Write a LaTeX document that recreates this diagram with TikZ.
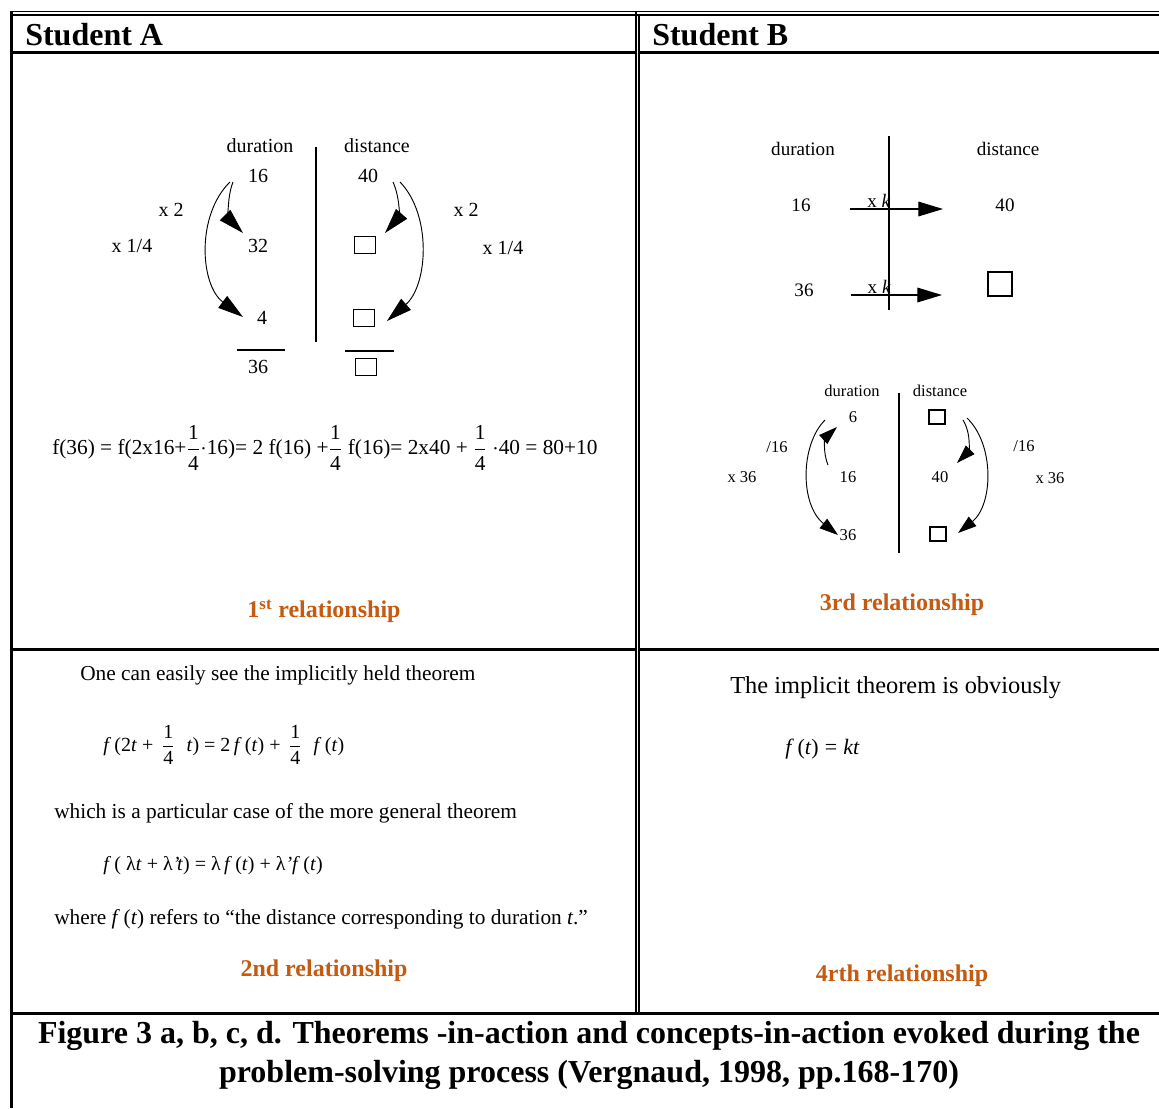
\documentclass[tikz,border=0pt]{standalone}
\usepackage{fontspec}
\setmainfont{Liberation Serif}
\usepackage{amsmath}
\usetikzlibrary{arrows.meta}
\definecolor{relc}{HTML}{C55A11}
\newcommand{\bfr}[2]{$\genfrac{}{}{1pt}{0}{\text{#1}}{\text{#2}}$}
\newcommand{\sfr}[2]{$\genfrac{}{}{0.5pt}{0}{\text{#1}}{\text{#2}}$}
\begin{document}
\begin{tikzpicture}[x=0.75pt,y=-0.75pt,
  hdr/.style={font=\fontsize{24}{28}\selectfont\bfseries, anchor=base west, inner sep=0pt},
  rel/.style={font=\fontsize{18}{21}\selectfont\bfseries, text=relc, inner sep=0pt},
  dgA/.style={font=\fontsize{15}{18}\selectfont, inner sep=1pt},
  dgB/.style={font=\fontsize{14.3}{17}\selectfont, inner sep=1pt},
  dgC/.style={font=\fontsize{12.4}{15}\selectfont, inner sep=1pt},
  bt/.style={font=\fontsize{16}{19}\selectfont, anchor=west, inner sep=0pt},
  eq/.style={font=\fontsize{15}{18}\selectfont, anchor=west, inner sep=0pt},
  boxA/.style={draw, line width=0.9pt, minimum width=15.75pt, minimum height=12.75pt, inner sep=0pt},
  boxB/.style={draw, line width=0.9pt, minimum width=18pt, minimum height=18pt, inner sep=0pt},
  boxC/.style={draw, line width=0.8pt, minimum width=12pt, minimum height=10.5pt, inner sep=0pt},
  arrA/.style={-{Triangle[length=19pt,width=11pt]}, line width=0.7pt},
  arrB/.style={-{Triangle[length=18.5pt,width=11pt]}, line width=0.9pt},
  arrC/.style={-{Triangle[length=14pt,width=9pt]}, line width=0.7pt},
  rule/.style={line width=0.9pt}
]
\useasboundingbox (0,0) rectangle (1159,1108);
\fill[white] (0,0) rectangle (1159,1108);

% ---------- table lines ----------
\draw[line width=1.4pt] (10,11.5) -- (1159,11.5);
\draw[line width=0.9pt] (10,15) -- (1159,15);
\draw[line width=2.25pt] (10,52.5) -- (635,52.5);
\draw[line width=2.25pt] (639.5,52.5) -- (1159,52.5);
\draw[line width=2.25pt] (11.5,10.5) -- (11.5,1108);
\draw[line width=1.3pt] (635.8,11) -- (635.8,1014.5);
\draw[line width=1.3pt] (638.8,15) -- (638.8,1014.5);
\draw[line width=2pt] (11,649.7) -- (635,649.7);
\draw[line width=2pt] (639.5,649.7) -- (1159,649.7);
\draw[line width=2.25pt] (11,1013.3) -- (1159,1013.3);

% ---------- headers ----------
\node[hdr] (hA) at (25,45) {Student A};
\node[hdr] (hB) at (652,45) {Student B};

% ---------- top-left diagram ----------
\node[dgA] (durA) at (260,146) {duration};
\node[dgA] (disA) at (377,146) {distance};
\draw[rule] (316,147) -- (316,342);
\node[dgA] (a16) at (258,176) {16};
\node[dgA] (a40) at (368,176) {40};
\node[dgA] (ax2L) at (171,210) {x 2};
\node[dgA] (ax4L) at (132,246) {x 1/4};
\node[dgA] (ax2R) at (466,210) {x 2};
\node[dgA] (ax4R) at (503,248) {x 1/4};
\node[dgA] (a32) at (258,246) {32};
\node[boxA] (abx1) at (365,245) {};
\node[dgA] (a4) at (262,318) {4};
\node[boxA] (abx2) at (364,318) {};
\draw[rule] (237,350) -- (285,350);
\draw[rule] (345,351) -- (394,351);
\node[dgA] (a36) at (258,367) {36};
\node[boxA] (abx3) at (366,367) {};
\draw[arrA] ([shift={(-25,6)}]a16.center) .. controls +(-7,18) and +(-13,-13) .. ([shift={(-15,-13)}]a32.center);
\draw[arrA] ([shift={(-28,6)}]a16.center) .. controls +(-34,33) and +(-43,-32) .. ([shift={(-19,-1)}]a4.center);
\draw[arrA] ([shift={(25,6)}]a40.center) .. controls +(8,18) and +(13,-15) .. ([shift={(20,-12)}]abx1.center);
\draw[arrA] ([shift={(32,6)}]a40.center) .. controls +(32,33) and +(41,-36) .. ([shift={(23,3)}]abx2.center);

\node[eq, font=\fontsize{16}{19}\selectfont] (eqA) at (52,448) {f(36) = f(2x16+\bfr{1}{4}$\cdot$16)= 2 f(16) +\bfr{1}{4} f(16)= 2x40 + \bfr{1}{4} $\cdot$40 = 80+10};

\node[rel] (r1) at (324,611) {1\textsuperscript{st} relationship};

% ---------- top-right diagram 1 ----------
\node[dgB] (durB) at (803,149) {duration};
\node[dgB] (disB) at (1008,149) {distance};
\draw[rule] (889,136) -- (889,310);
\node[dgB] (b16) at (801,205) {16};
\node[dgB] (b40) at (1005,205) {40};
\node[dgB] (b36) at (804,290) {36};
\node[boxB] (bbx) at (1000,284) {};
\draw[arrB] ([shift={(49,4)}]b16.center) -- node[pos=0.31, above, inner sep=0.3pt, dgB] {x \textit{k}} ([shift={(-62,4)}]b40.center);
\draw[arrB] ([shift={(47,5)}]b36.center) -- node[pos=0.31, above, inner sep=0.3pt, dgB] {x \textit{k}} ([shift={(-58,11)}]bbx.center);

% ---------- top-right diagram 2 ----------
\node[dgC] (durC) at (852,391) {duration};
\node[dgC] (disC) at (940,391) {distance};
\draw[rule] (899,393) -- (899,553);
\node[dgC] (c6) at (853,417) {6};
\node[boxC] (cbx1) at (937,417) {};
\node[dgC] (cs16L) at (777,447) {/16};
\node[dgC] (cx36L) at (742,477) {x 36};
\node[dgC] (cs16R) at (1024,446) {/16};
\node[dgC] (cx36R) at (1050,478) {x 36};
\node[dgC] (c16) at (848,477) {16};
\node[dgC] (c40) at (940,477) {40};
\node[dgC] (c36) at (848,535) {36};
\node[boxC] (cbx2) at (938,534) {};
\draw[arrC] ([shift={(-20,-12)}]c16.center) .. controls +(-6,-15) and +(-11,10) .. ([shift={(-16,10)}]c6.center);
\draw[arrC] ([shift={(-28,3)}]c6.center) .. controls +(-25,25) and +(-38,-30) .. ([shift={(-10,0)}]c36.center);
\draw[arrC] ([shift={(26,3)}]cbx1.center) .. controls +(9,15) and +(11,-11) .. ([shift={(17,-14)}]c40.center);
\draw[arrC] ([shift={(30,1)}]cbx1.center) .. controls +(28,27) and +(35,-28) .. ([shift={(20,-1)}]cbx2.center);

\node[rel] (r3) at (902,605) {3rd relationship};

% ---------- bottom-left ----------
\node[bt] (t1) at (80,675) {One can easily see the implicitly held theorem};
\node[eq] (e1) at (103,745) {\textit{f}\,(2\textit{t} +\, \sfr{1}{4}\,\, \textit{t}) = 2\,\textit{f}\,(\textit{t}) + \,\sfr{1}{4}\,\, \textit{f}\,(\textit{t})};
\node[bt] (t2) at (54,813) {which is a particular case of the more general theorem};
\node[eq] (e2) at (103,866) {\textit{f}\,( λ\textit{t} + λ\textit{'t}) = λ\,\textit{f}\,(\textit{t}) + λ\textit{'f}\,(\textit{t})};
\node[bt] (t3) at (54,919) {where \textit{f}\,(\textit{t}) refers to “the distance corresponding to duration \textit{t}.”};
\node[rel] (r2) at (324,971) {2nd relationship};

% ---------- bottom-right ----------
\node[bt, font=\fontsize{18.3}{21}\selectfont] (t4) at (730,688) {The implicit theorem is obviously};
\node[eq, font=\fontsize{16.5}{19}\selectfont] (e3) at (785,749) {\textit{f}\,(\textit{t})\;=\;\textit{kt}};
\node[rel] (r4) at (902,976) {4rth relationship};

% ---------- caption ----------
\node[font=\fontsize{24}{29.3}\selectfont\bfseries, align=center, inner sep=0pt] (cap) at (589,1055.5)
  {Figure 3 a, b, c, d. Theorems -in-action and concepts-in-action evoked during the\\ problem-solving process (Vergnaud, 1998, pp.168-170)};
\end{tikzpicture}
\end{document}
